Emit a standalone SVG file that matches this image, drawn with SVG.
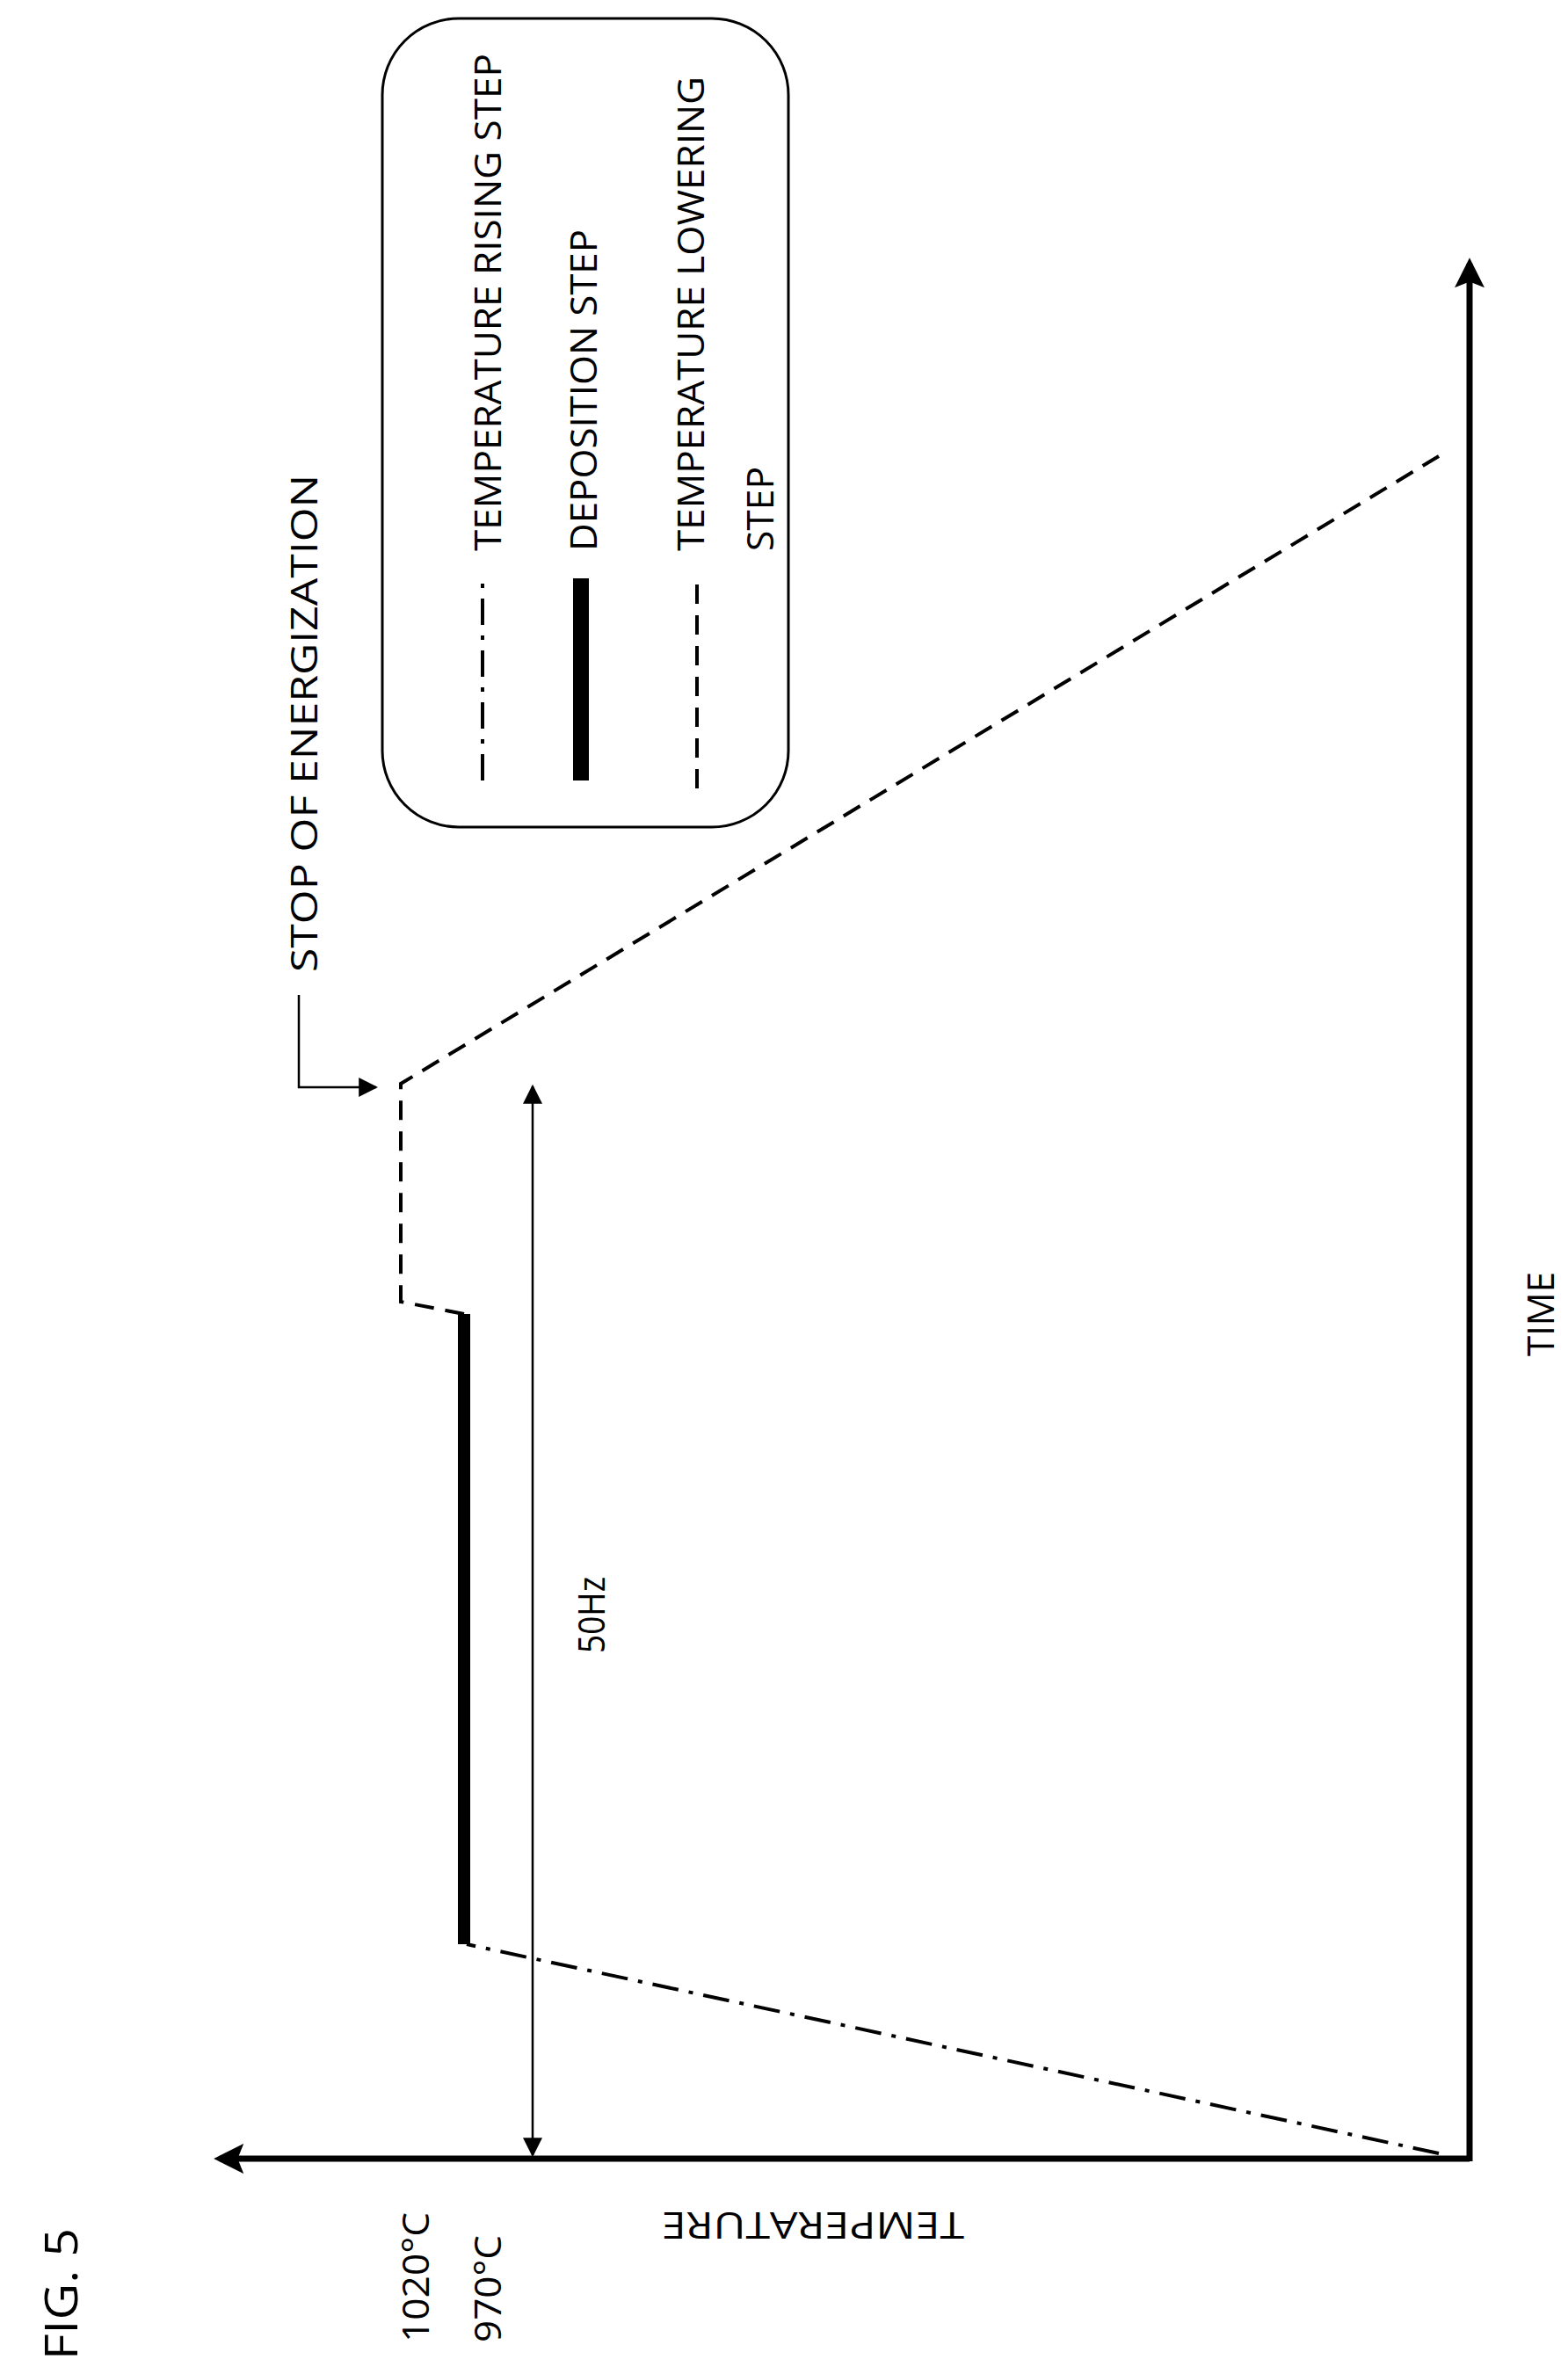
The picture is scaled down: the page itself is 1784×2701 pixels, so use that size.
<svg xmlns="http://www.w3.org/2000/svg" width="1784" height="2701" viewBox="0 0 1784 2701">
<defs>
<marker id="ahs" viewBox="0 0 10 10" refX="9" refY="5" markerWidth="22" markerHeight="22" markerUnits="userSpaceOnUse" orient="auto-start-reverse"><path d="M0,0 L10,5 L0,10 Z" fill="#000"/></marker>
<marker id="big" viewBox="0 0 10 10" refX="8" refY="5" markerWidth="34" markerHeight="34" markerUnits="userSpaceOnUse" orient="auto"><path d="M0,0 L10,5 L0,10 L2,5 Z" fill="#000"/></marker>
</defs>
<style>
text{font-family:"Open Sans","Liberation Sans",sans-serif;font-size:42px;fill:#000}
.dd{fill:none;stroke:#000;stroke-width:4;stroke-dasharray:30 12 5 12}
.da{fill:none;stroke:#000;stroke-width:4;stroke-dasharray:22 13}
</style>
<rect width="1784" height="2701" fill="#fff"/>
<g id="legend">
<rect x="435" y="21" width="462" height="920" rx="87" fill="none" stroke="#000" stroke-width="3"/>
<line x1="549" y1="888" x2="549" y2="658" class="dd"/>
<rect x="652" y="658" width="18" height="230" fill="#000"/>
<line x1="793" y1="897" x2="793" y2="658" class="da"/>
<text transform="translate(570,627) rotate(-90)" textLength="566" lengthAdjust="spacingAndGlyphs">TEMPERATURE RISING STEP</text>
<text transform="translate(679,627) rotate(-90)" textLength="366" lengthAdjust="spacingAndGlyphs">DEPOSITION STEP</text>
<text transform="translate(801,627) rotate(-90)" textLength="540" lengthAdjust="spacingAndGlyphs">TEMPERATURE LOWERING</text>
<text transform="translate(880,627) rotate(-90)" textLength="96" lengthAdjust="spacingAndGlyphs">STEP</text>
</g>
<g id="axes">
<line x1="1672" y1="2456" x2="250" y2="2456" stroke="#000" stroke-width="7" marker-end="url(#big)"/>
<line x1="1672" y1="2459" x2="1672" y2="300" stroke="#000" stroke-width="7" marker-end="url(#big)"/>
</g>
<g id="connectors">
<line x1="1637" y1="2450" x2="531" y2="2212" class="dd"/>
<rect x="521" y="1495" width="14" height="717" fill="#000"/>
<polyline points="528,1495 456,1481 456,1233 1637,519" class="da"/>
<line x1="606" y1="1236" x2="606" y2="2452" stroke="#000" stroke-width="2.5" marker-start="url(#ahs)" marker-end="url(#ahs)"/>
<polyline points="340,1132 340,1237 428,1237" fill="none" stroke="#000" stroke-width="2.5" marker-end="url(#ahs)"/>
</g>
<g id="labels">
<text transform="translate(361,1106) rotate(-90)" textLength="566" lengthAdjust="spacingAndGlyphs">STOP OF ENERGIZATION</text>
<text transform="translate(688,1881) rotate(-90)" textLength="87" lengthAdjust="spacingAndGlyphs">50Hz</text>
<text transform="translate(488,2665) rotate(-90)" textLength="148" lengthAdjust="spacingAndGlyphs">1020°C</text>
<text transform="translate(570,2665) rotate(-90)" textLength="122" lengthAdjust="spacingAndGlyphs">970°C</text>
<text transform="translate(925,2517) rotate(180)" text-anchor="middle" textLength="344" lengthAdjust="spacingAndGlyphs">TEMPERATURE</text>
<text transform="translate(1768,1495) rotate(-90)" text-anchor="middle" textLength="96" lengthAdjust="spacingAndGlyphs">TIME</text>
<text transform="translate(88,2685) rotate(-90)" style="font-size:52px" textLength="150" lengthAdjust="spacingAndGlyphs">FIG. 5</text>
</g>
</svg>
